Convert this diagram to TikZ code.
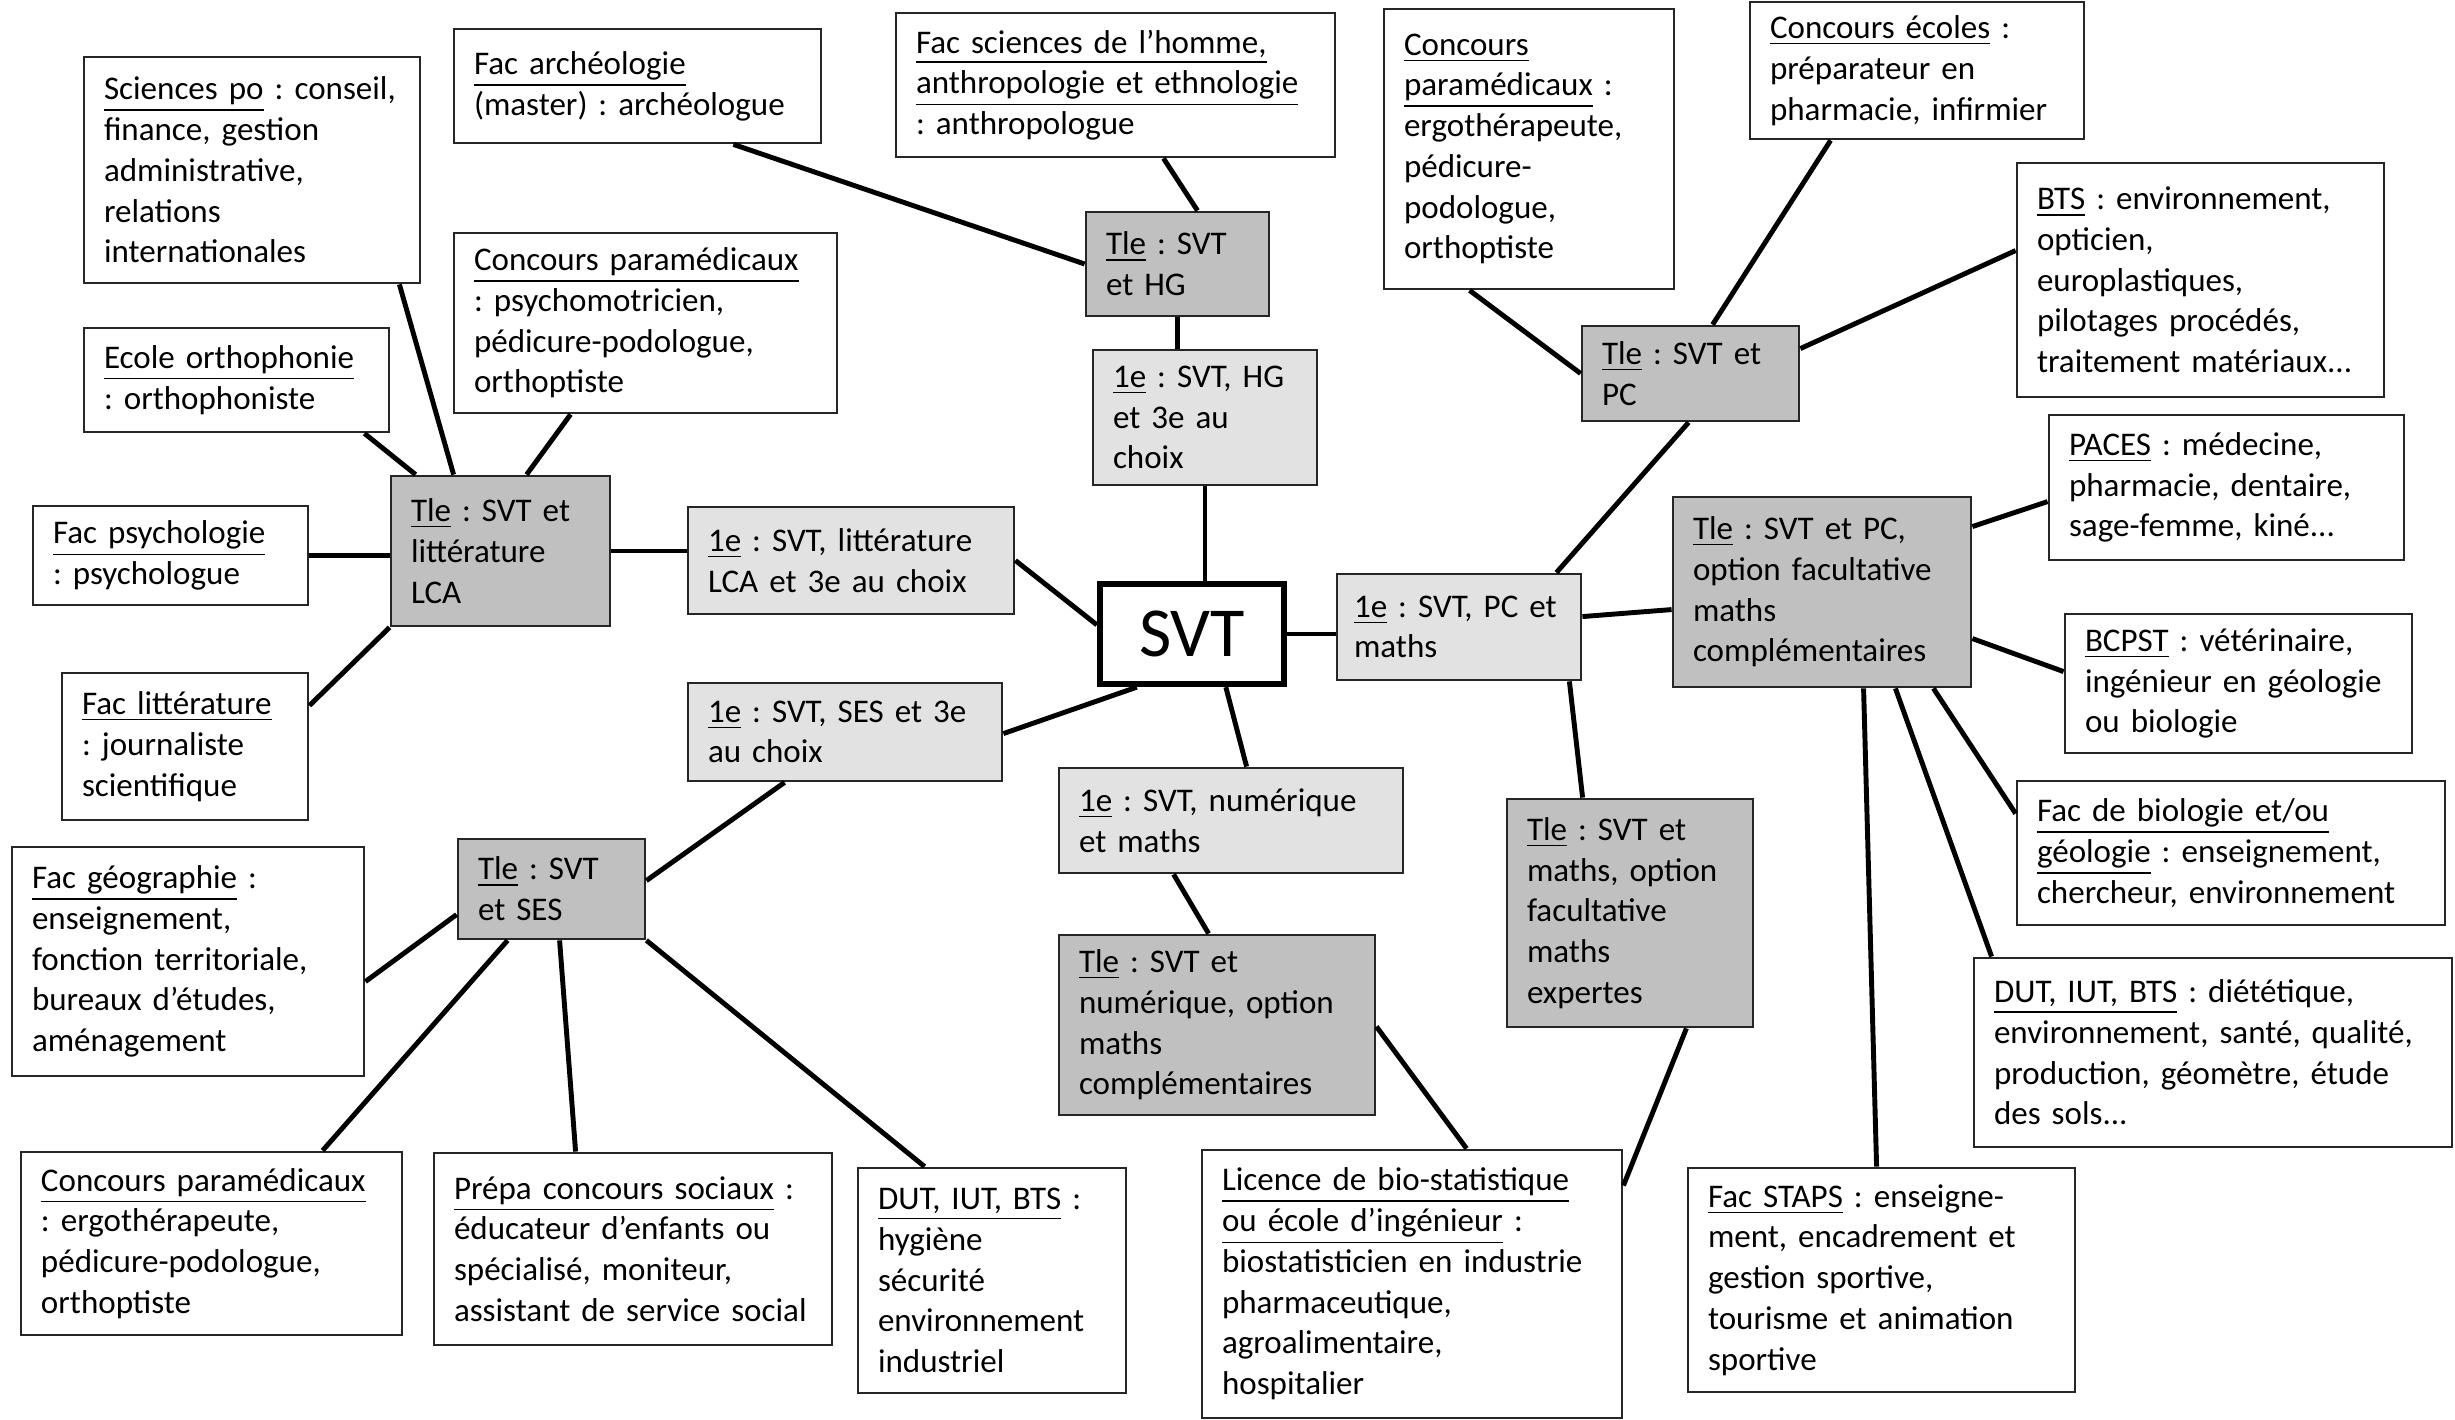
\documentclass[tikz,border=0pt]{standalone}
\usepackage{fontspec}
\setmainfont{Carlito}
\definecolor{TleGrey}{RGB}{192,192,192}
\definecolor{PremGrey}{RGB}{226,226,226}
\newcommand{\cardfont}{\fontsize{9.4}{11.6}\selectfont\frenchspacing
  \hyphenpenalty=10000\exhyphenpenalty=10000}
\tikzset{
  card/.style={draw=black!85,line width=0.8pt,fill=white,align=left,
    inner xsep=0.2cm,inner ysep=1pt,font=\cardfont},
  tle/.style={card,fill=TleGrey},
  prem/.style={card,fill=PremGrey},
  hub/.style={draw,line width=1.8pt,fill=white,minimum width=1.84cm,
    minimum height=1.0cm,font=\fontsize{20}{24}\selectfont},
  link/.style={line width=1.4pt}
}

\begin{document}
\begin{tikzpicture}
  \useasboundingbox (0,0) rectangle (24.55,14.2);

  % centre
  \node[hub] (svt) at (11.92,7.86) {SVT};

  % 1e
  \node[prem,text width=2.86cm,minimum height=1.07cm] (unLit) at (8.51,8.595)
    {\underline{1e} : SVT, littérature\\LCA et 3e au choix};
  \node[prem,text width=1.84cm,minimum height=1.35cm] (unHG) at (12.05,10.025)
    {\underline{1e} : SVT, HG\\et 3e au\\choix};
  \node[prem,text width=2.10cm,inner xsep=0.17cm,minimum height=1.06cm] (unPC) at (14.59,7.93)
    {\underline{1e} : SVT, PC et\\maths};
  \node[prem,text width=2.74cm,minimum height=0.98cm] (unSES) at (8.45,6.88)
    {\underline{1e} : SVT, SES et 3e\\au choix};
  \node[prem,text width=3.04cm,minimum height=1.05cm] (unNum) at (12.31,5.995)
    {\underline{1e} : SVT, numérique\\et maths};

  % Tle
  \node[tle,text width=1.79cm,minimum height=1.50cm] (tleLCA) at (5.005,8.69)
    {\underline{Tle} : SVT et\\littérature\\LCA};
  \node[tle,text width=1.43cm,minimum height=1.04cm] (tleHG) at (11.775,11.56)
    {\underline{Tle} : SVT\\et HG};
  \node[tle,text width=1.77cm,minimum height=0.95cm] (tlePC) at (16.905,10.465)
    {\underline{Tle} : SVT et\\PC};
  \node[tle,text width=2.58cm,minimum height=1.90cm] (tleOpt) at (18.22,8.28)
    {\underline{Tle} : SVT et PC,\\option facultative\\maths\\complémentaires};
  \node[tle,text width=1.47cm,minimum height=1.00cm] (tleSES) at (5.515,5.31)
    {\underline{Tle} : SVT\\et SES};
  \node[tle,text width=2.76cm,minimum height=1.80cm] (tleNum) at (12.17,3.95)
    {\underline{Tle} : SVT et\\numérique, option\\maths\\complémentaires};
  \node[tle,text width=2.06cm,minimum height=2.28cm] (tleMx) at (16.30,5.07)
    {\underline{Tle} : SVT et\\maths, option\\facultative\\maths\\expertes};

  % debouches
  \node[card,text width=2.96cm,minimum height=2.26cm] (scipo) at (2.52,12.50)
    {\underline{Sciences po} : conseil,\\finance, gestion\\administrative,\\relations\\internationales};
  \node[card,text width=3.27cm,minimum height=1.14cm] (archeo) at (6.375,13.34)
    {\underline{Fac archéologie}\\(master) : archéologue\\[4pt]};
  \node[card,text width=3.99cm,minimum height=1.44cm] (anthropo) at (11.155,13.35)
    {\underline{Fac sciences de l’homme,}\\\underline{anthropologie et ethnologie}\\: anthropologue\\[4pt]};
  \node[card,text width=2.50cm,minimum height=2.80cm] (paramedTop) at (15.29,12.71)
    {\underline{Concours}\\\underline{paramédicaux} :\\ergothérapeute,\\pédicure-\\podologue,\\orthoptiste};
  \node[card,text width=2.94cm,minimum height=1.37cm] (ecoles) at (19.17,13.495)
    {\underline{Concours écoles} :\\préparateur en\\pharmacie, infirmier};
  \node[card,text width=3.27cm,minimum height=2.34cm] (bts) at (22.005,11.40)
    {\underline{BTS} : environnement,\\opticien,\\europlastiques,\\pilotages procédés,\\traitement matériaux...\\[2pt]};
  \node[card,text width=3.15cm,minimum height=1.45cm] (paces) at (22.265,9.325)
    {\underline{PACES} : médecine,\\pharmacie, dentaire,\\sage-femme, kiné...};
  \node[card,text width=3.07cm,minimum height=1.39cm] (bcpst) at (22.385,7.365)
    {\underline{BCPST} : vétérinaire,\\ingénieur en géologie\\ou biologie};
  \node[card,text width=3.88cm,minimum height=1.44cm] (facbio) at (22.31,5.67)
    {\underline{Fac de biologie et/ou}\\\underline{géologie} : enseignement,\\chercheur, environnement};
  \node[card,text width=4.38cm,minimum height=1.89cm] (dutRight) at (22.13,3.675)
    {\underline{DUT, IUT, BTS} : diététique,\\environnement, santé, qualité,\\production, géomètre, étude\\des sols...};
  \node[card,text width=3.47cm,minimum height=2.24cm] (staps) at (18.815,1.40)
    {\underline{Fac STAPS} : enseigne-\\ment, encadrement et\\gestion sportive,\\tourisme et animation\\sportive};
  \node[card,text width=3.80cm,minimum height=2.68cm] (licence) at (14.12,1.36)
    {\underline{Licence de bio-statistique}\\\underline{ou école d’ingénieur} :\\biostatisticien en industrie\\pharmaceutique,\\agroalimentaire,\\hospitalier};
  \node[card,text width=2.28cm,minimum height=2.25cm] (dutMid) at (9.92,1.395)
    {\underline{DUT, IUT, BTS} :\\hygiène\\sécurité\\environnement\\industriel};
  \node[card,text width=3.58cm,minimum height=1.92cm] (prepa) at (6.33,1.71)
    {\underline{Prépa concours sociaux} :\\éducateur d’enfants ou\\spécialisé, moniteur,\\assistant de service social\\[2pt]};
  \node[card,text width=3.41cm,minimum height=1.83cm] (paramedBot) at (2.115,1.765)
    {\underline{Concours paramédicaux}\\: ergothérapeute,\\pédicure-podologue,\\orthoptiste};
  \node[card,text width=3.12cm,minimum height=2.29cm] (geo) at (1.88,4.585)
    {\underline{Fac géographie} :\\enseignement,\\fonction territoriale,\\bureaux d’études,\\aménagement};
  \node[card,text width=2.06cm,minimum height=1.47cm] (facLit) at (1.85,6.735)
    {\underline{Fac littérature}\\: journaliste\\scientifique};
  \node[card,text width=2.35cm,minimum height=0.99cm] (psycho) at (1.705,8.645)
    {\underline{Fac psychologie}\\: psychologue};
  \node[card,text width=2.65cm,minimum height=1.04cm] (ortho) at (2.365,10.40)
    {\underline{Ecole orthophonie}\\: orthophoniste};
  \node[card,text width=3.43cm,minimum height=1.80cm] (paramedLeft) at (6.455,10.97)
    {\underline{Concours paramédicaux}\\: psychomotricien,\\pédicure-podologue,\\orthoptiste};

  % liens
  \draw[link] (unLit.east) -- ([yshift=-0.44cm]svt.north west);
  \draw[link] (unHG.south) -- (unHG.south |- svt.north);
  \draw[link] (svt.east) -- (svt.east -| unPC.west);
  \draw[link] ([xshift=0.40cm]svt.south west) -- ([yshift=-0.52cm]unSES.north east);
  \draw[link] ([xshift=1.29cm]svt.south west) -- ([xshift=1.89cm]unNum.north west);

  \draw[link] (tleLCA.east) -- (tleLCA.east -| unLit.west);
  \draw[link] ([xshift=-0.22cm]scipo.south east) -- ([xshift=0.64cm]tleLCA.north west);
  \draw[link] ([xshift=-0.26cm]ortho.south east) -- ([xshift=0.26cm]tleLCA.north west);
  \draw[link] ([xshift=1.18cm]paramedLeft.south west) -- ([xshift=1.37cm]tleLCA.north west);
  \draw[link] (psycho.east) -- (psycho.east -| tleLCA.west);
  \draw[link] ([yshift=-0.34cm]facLit.north east) -- (tleLCA.south west);

  \draw[link] (tleHG.south) -- (tleHG.south |- unHG.north);
  \draw[link] (tleHG.west) -- ([xshift=-0.89cm]archeo.south east);
  \draw[link] ([xshift=0.2cm]tleHG.north) -- ([xshift=0.48cm]anthropo.south);

  \draw[link] ([xshift=-0.26cm]unPC.north east) -- ([xshift=1.08cm]tlePC.south west);
  \draw[link] (tlePC.west) -- ([xshift=0.87cm]paramedTop.south west);
  \draw[link] ([xshift=1.32cm]tlePC.north west) -- ([xshift=0.82cm]ecoles.south west);
  \draw[link] ([yshift=-0.24cm]tlePC.north east) -- ([yshift=-0.89cm]bts.north west);

  \draw[link] ([yshift=-0.44cm]unPC.north east) -- ([yshift=-1.14cm]tleOpt.north west);
  \draw[link] ([yshift=-0.31cm]tleOpt.north east) -- ([yshift=-0.88cm]paces.north west);
  \draw[link] ([yshift=-1.43cm]tleOpt.north east) -- ([yshift=-0.59cm]bcpst.north west);
  \draw[link] ([xshift=-0.39cm]tleOpt.south east) -- ([yshift=-0.34cm]facbio.north west);
  \draw[link] ([xshift=-0.77cm]tleOpt.south east) -- ([xshift=0.19cm]dutRight.north west);
  \draw[link] ([xshift=1.92cm]tleOpt.south west) -- ([xshift=1.90cm]staps.north west);

  \draw[link] ([xshift=-0.13cm]unPC.south east) -- ([xshift=0.77cm]tleMx.north west);
  \draw[link] ([xshift=-0.68cm]tleMx.south east) -- ([yshift=-0.37cm]licence.north east);

  \draw[link] ([xshift=1.16cm]unNum.south west) -- ([xshift=1.51cm]tleNum.north west);
  \draw[link] ([yshift=-0.93cm]tleNum.north east) -- ([xshift=2.66cm]licence.north west);

  \draw[link] ([xshift=0.98cm]unSES.south west) -- ([yshift=-0.43cm]tleSES.north east);
  \draw[link] ([yshift=-0.77cm]tleSES.north west) -- ([yshift=-1.36cm]geo.north east);
  \draw[link] ([xshift=0.51cm]tleSES.south west) -- ([xshift=3.03cm]paramedBot.north west);
  \draw[link] ([xshift=1.03cm]tleSES.south west) -- ([xshift=1.43cm]prepa.north west);
  \draw[link] (tleSES.south east) -- ([xshift=0.68cm]dutMid.north west);
\end{tikzpicture}
\end{document}
